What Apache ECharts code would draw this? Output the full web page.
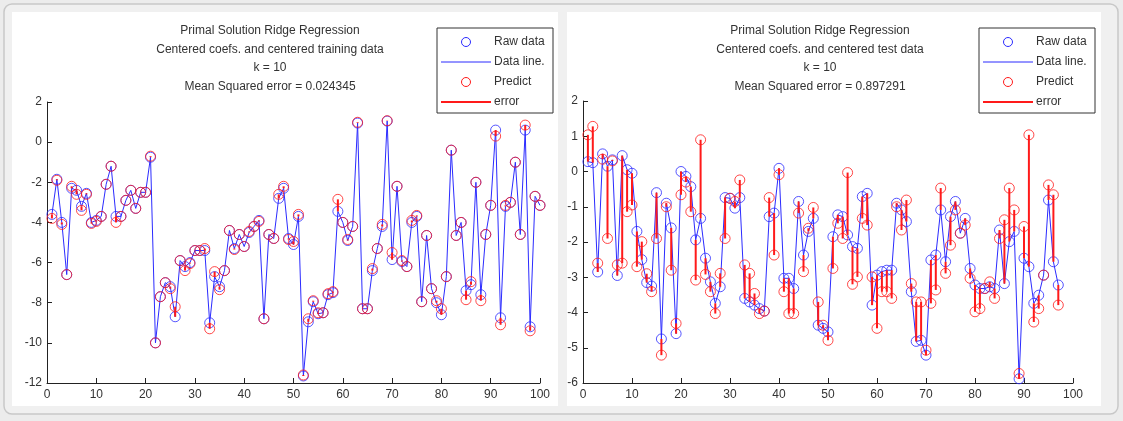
<!DOCTYPE html>
<html><head><meta charset="utf-8">
<script src="https://cdn.jsdelivr.net/npm/echarts@6/dist/echarts.min.js"></script>
<style>html,body{margin:0;padding:0;background:#ececec;}#c{width:1123px;height:421px;}</style>
</head><body><div id="c"></div>
<script>
// ---- tick labels / axes ----
const xTicks = [0,10,20,30,40,50,60,70,80,90,100];
const leftYTicks = [-12,-10,-8,-6,-4,-2,0,2];
const rightYTicks = [-6,-5,-4,-3,-2,-1,0,1,2];

// ---- titles ----
const leftTitle = ["Primal Solution Ridge Regression","Centered coefs. and centered training data","k = 10","Mean Squared error = 0.024345"];
const rightTitle = ["Primal Solution Ridge Regression","Centered coefs. and centered test data","k = 10","Mean Squared error = 0.897291"];
const legendNames = ["Raw data","Data line.","Predict","error"];

// ---- training (left) ----
const trainRaw = [-3.6,-1.85,-4.0,-6.6,-2.3,-2.4,-3.2,-2.55,-4.0,-3.9,
 -3.7,-2.1,-1.2,-3.7,-3.7,-2.9,-2.4,-3.3,-2.5,-2.5,
 -0.75,-10.0,-7.7,-7.0,-7.2,-8.7,-5.9,-6.2,-6.0,-5.4,
 -5.4,-5.4,-9.0,-6.7,-7.2,-6.4,-4.4,-5.3,-4.6,-5.2,
 -4.5,-4.2,-3.9,-8.8,-4.6,-4.8,-2.8,-2.3,-4.8,-5.1,
 -3.7,-11.65,-8.95,-7.95,-8.55,-8.5,-7.6,-7.5,-3.45,-4.0,
 -4.9,-4.2,0.95,-8.3,-8.3,-6.4,-5.3,-4.2,1.05,-5.85,
 -2.2,-5.95,-6.2,-4.0,-3.7,-7.95,-4.65,-7.3,-8.0,-8.6,
 -6.7,-0.4,-4.65,-4.0,-7.4,-7.1,-2.0,-7.6,-4.6,-3.15,
 0.6,-8.75,-3.2,-3.0,-1.0,-4.6,0.6,-9.2,-2.7,-3.15];
const trainPred = [-3.8,-1.9,-4.1,-6.6,-2.2,-2.6,-3.4,-2.6,-4.05,-3.95,
 -3.7,-2.1,-1.2,-4.0,-3.7,-2.9,-2.4,-3.3,-2.5,-2.5,
 -0.7,-10.0,-7.7,-7.0,-7.3,-8.2,-5.9,-6.4,-6.05,-5.4,
 -5.4,-5.3,-9.3,-6.45,-7.35,-6.4,-4.4,-5.35,-4.6,-5.2,
 -4.45,-4.2,-3.95,-8.8,-4.6,-4.8,-2.6,-2.2,-4.85,-4.95,
 -3.6,-11.6,-8.8,-7.9,-8.5,-8.5,-7.55,-7.45,-2.85,-4.0,
 -4.85,-4.2,0.99,-8.3,-8.3,-6.3,-5.3,-4.1,1.07,-5.5,
 -2.2,-5.9,-6.2,-3.9,-3.65,-7.95,-4.65,-7.3,-7.9,-8.3,
 -6.7,-0.4,-4.65,-4.0,-7.85,-6.95,-2.0,-7.9,-4.6,-3.15,
 0.3,-9.1,-3.15,-3.0,-1.0,-4.6,0.85,-9.4,-2.7,-3.15];

// ---- test (right) ----
const testRaw = [0.28,0.25,-2.85,0.5,0.15,0.33,-2.95,0.45,0.05,-0.05,
 -1.7,-2.5,-3.15,-3.25,-0.6,-4.75,-0.9,-1.6,-4.6,0.0,
 -0.14,-0.43,-1.94,-1.33,-2.46,-3.13,-3.74,-3.27,-0.74,-0.76,
 -1.04,-0.74,-3.6,-3.7,-3.79,-3.89,-3.96,-1.28,-1.18,0.09,
 -3.03,-3.03,-3.32,-0.85,-2.37,-1.7,-1.33,-4.36,-4.45,-4.55,
 -1.85,-1.23,-1.28,-1.8,-2.13,-2.18,-0.71,-0.62,-3.79,-2.94,
 -2.84,-2.8,-2.8,-0.9,-1.09,-1.42,-3.41,-4.82,-4.79,-5.21,
 -2.51,-2.37,-1.09,-2.56,-1.28,-0.85,-1.75,-1.33,-2.75,-3.22,
 -3.32,-3.32,-3.27,-3.32,-1.66,-3.18,-1.99,-1.7,-5.88,-2.46,
 -2.7,-3.74,-3.51,-2.94,-0.81,-2.56,-3.22];
const testPred = [1.04,1.28,-2.6,0.35,-1.9,0.3,-2.65,-2.6,-1.14,-0.95,
 -2.7,-1.99,-2.9,-3.41,-1.9,-5.21,-1.0,-2.8,-4.31,-0.66,
 -0.3,-1.14,-3.08,0.9,-2.92,-3.41,-4.03,-2.89,-1.9,-0.76,
 -0.85,-0.24,-2.65,-2.89,-3.46,-4.03,-3.96,-0.74,-2.37,-0.09,
 -3.41,-4.03,-4.03,-1.18,-2.84,-1.61,-1.02,-3.7,-4.36,-4.79,
 -2.75,-1.47,-1.9,-0.03,-3.2,-2.99,-1.33,-1.52,-2.99,-4.45,
 -3.41,-3.41,-3.6,-1.0,-1.66,-0.81,-3.18,-3.7,-3.7,-5.07,
 -3.74,-3.36,-0.47,-2.89,-2.09,-1.09,-1.75,-1.52,-3.03,-3.98,
 -3.89,-3.32,-3.13,-3.6,-1.9,-1.37,-0.47,-1.09,-5.73,-1.56,
 1.04,-4.27,-3.89,-2.94,-0.38,-0.66,-3.79];

const BLUE = '#2b2bff', RED = '#ff1a1a', TXT = '#333333';

function pts(arr){ return arr.map((v,i)=>[i+1, v]); }
function errs(raw, pred){ return raw.map((v,i)=>[i+1, v, pred[i]]); }

function xAxis(gi){
  return {type:'value', gridIndex:gi, min:0, max:100, interval:10,
    axisLine:{onZero:false, lineStyle:{color:'#222', width:1}},
    axisTick:{inside:true, length:5, lineStyle:{color:'#222'}},
    axisLabel:{color:TXT, fontSize:12, fontFamily:'Liberation Sans, Arial', margin:6,
      formatter:v=>xTicks.includes(v)?String(v):''},
    splitLine:{show:false}};
}
function yAxis(gi, ticks, step){
  return {type:'value', gridIndex:gi, min:ticks[0], max:ticks[ticks.length-1], interval:step,
    axisLine:{show:true, onZero:false, lineStyle:{color:'#222', width:1}},
    axisTick:{show:true, inside:true, length:5, lineStyle:{color:'#222'}},
    axisLabel:{color:TXT, fontSize:12, fontFamily:'Liberation Sans, Arial', margin:5,
      formatter:v=>ticks.includes(v)?String(v):''},
    splitLine:{show:false}};
}
function errSeries(xi, yi, raw, pred){
  return {type:'custom', xAxisIndex:xi, yAxisIndex:yi, z:5, silent:true,
    data: errs(raw, pred),
    encode:{x:0, y:[1,2]},
    renderItem:function(params, api){
      const a = api.coord([api.value(0), api.value(1)]);
      const b = api.coord([api.value(0), api.value(2)]);
      return {type:'line', shape:{x1:a[0], y1:a[1], x2:b[0], y2:b[1]},
        style:{stroke:RED, lineWidth:2}};
    }};
}
function lineSeries(xi, yi, raw){
  return {type:'line', xAxisIndex:xi, yAxisIndex:yi, z:2, silent:true, showSymbol:false,
    data:pts(raw), lineStyle:{color:BLUE, width:1}, animation:false};
}
function circleSeries(xi, yi, vals, color, z){
  return {type:'scatter', xAxisIndex:xi, yAxisIndex:yi, z:z, silent:true,
    symbol:'circle', symbolSize:10, data:pts(vals),
    itemStyle:{color:'rgba(0,0,0,0)', borderColor:color, borderWidth:1}};
}

function titleGraphic(lines, cx, y0){
  return lines.map((t,i)=>({type:'text', x:cx, y:y0+i*18.5, z:10,
    style:{text:t, fill:TXT, font:'12px "Liberation Sans", Arial', textAlign:'center', textVerticalAlign:'middle'}}));
}
function legendGraphic(bx, by, bw, bh){
  const g = [];
  g.push({type:'rect', shape:{x:bx, y:by, width:bw, height:bh}, z:10,
    style:{fill:'#ffffff', stroke:'#333', lineWidth:1}});
  const lx1 = bx+4, lx2 = bx+54, cx = bx+29, tx = bx+57;
  const rows = [by+14, by+34, by+54, by+74];
  g.push({type:'circle', shape:{cx:cx, cy:rows[0], r:4.5}, z:11, style:{fill:'none', stroke:BLUE, lineWidth:1}});
  g.push({type:'line', shape:{x1:lx1, y1:rows[1], x2:lx2, y2:rows[1]}, z:11, style:{stroke:BLUE, lineWidth:1}});
  g.push({type:'circle', shape:{cx:cx, cy:rows[2], r:4.5}, z:11, style:{fill:'none', stroke:RED, lineWidth:1}});
  g.push({type:'line', shape:{x1:lx1, y1:rows[3], x2:lx2, y2:rows[3]}, z:11, style:{stroke:RED, lineWidth:2}});
  legendNames.forEach((n,i)=>g.push({type:'text', x:tx, y:rows[i], z:11,
    style:{text:n, fill:TXT, font:'12px "Liberation Sans", Arial', textVerticalAlign:'middle'}}));
  return g;
}

const chart = echarts.init(document.getElementById('c'), null, {renderer:'canvas'});
const graphics = [].concat(
  [{type:'rect', shape:{x:4, y:4, width:1114, height:410, r:8}, z:0, style:{fill:'#f0f0f0', stroke:'#c8c8c8', lineWidth:1.5}},
   {type:'rect', shape:{x:12, y:12, width:546, height:394}, z:0, style:{fill:'#ffffff'}},
   {type:'rect', shape:{x:567, y:12, width:534, height:394}, z:0, style:{fill:'#ffffff'}}],
  titleGraphic(leftTitle, 270, 31),
  titleGraphic(rightTitle, 820, 31),
  legendGraphic(437, 28, 116, 85),
  legendGraphic(979, 28, 116, 85)
);

chart.setOption({
  animation:false,
  backgroundColor:'#ececec',
  grid:[{left:47, right:583, top:102, bottom:38},
        {left:583, right:50, top:101, bottom:38}],
  xAxis:[xAxis(0), xAxis(1)],
  yAxis:[yAxis(0, leftYTicks, 2), yAxis(1, rightYTicks, 1)],
  graphic: graphics,
  series:[
    lineSeries(0,0,trainRaw), circleSeries(0,0,trainRaw,BLUE,3), circleSeries(0,0,trainPred,RED,4), errSeries(0,0,trainRaw,trainPred),
    lineSeries(1,1,testRaw), circleSeries(1,1,testRaw,BLUE,3), circleSeries(1,1,testPred,RED,4), errSeries(1,1,testRaw,testPred)
  ]
});
</script></body></html>
